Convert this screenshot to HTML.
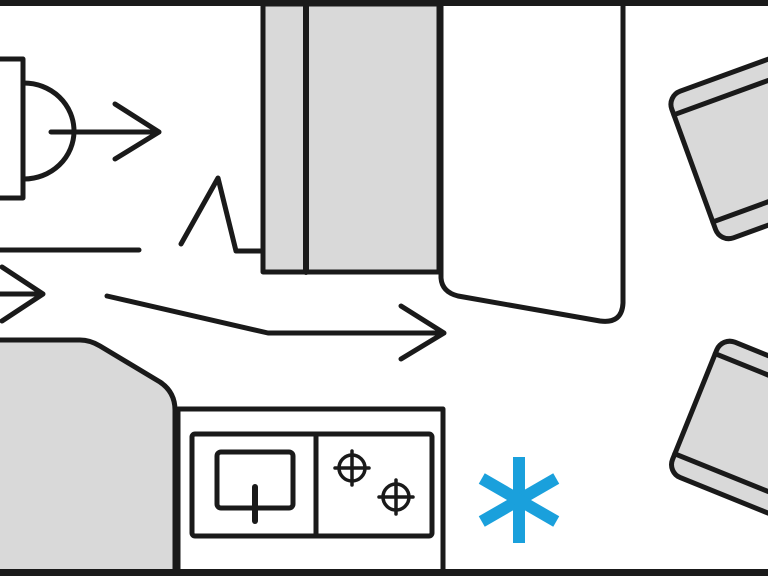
<!DOCTYPE html>
<html><head><meta charset="utf-8"><style>
html,body{margin:0;padding:0;background:#fff;}
svg{display:block;}
</style></head><body>
<svg width="768" height="576" viewBox="0 0 768 576" xmlns="http://www.w3.org/2000/svg">
<g fill="none" stroke="#1a1a1a" stroke-width="5" stroke-linecap="round" stroke-linejoin="round">
<path d="M0 59 H23 V198 H0" />
<path d="M24 83 A50 48 0 0 1 24 179" />
<path d="M51 132 H159 M115 104 L159 132 L115 159" />
<path d="M0 250 H139" />
<path d="M0 294 H42 M2 267 L43 294 L2 321" />
<path d="M181 244 L218 178 L236 251 H262" />
<rect x="263" y="4" width="176" height="268" fill="#d9d9d9" />
<path d="M306 4 V272" stroke-width="6"/>
<path d="M441 4 V278 Q442 292 458 296 L600 321 Q622 324 623 303 V4" fill="#fff"/>
<path d="M107 296 L268 333 H443 M401 306 L444 333 L401 359" />
<path d="M-5 340 H80 Q90 340 100 346 L160 382 Q175 392 175 410 V576 H-5 Z" fill="#d9d9d9"/>
<rect x="178" y="409" width="265" height="170" fill="#fff"/>
<rect x="192" y="434" width="240" height="102" rx="3"/>
<path d="M316 434 V536"/>
<rect x="217" y="452" width="76" height="56" rx="4"/>
<path d="M255 487 V521" stroke-width="6"/>
<g stroke-width="3.5">
<circle cx="352" cy="468" r="13"/><path d="M335 468 H369 M352 451 V485"/>
<circle cx="396" cy="497" r="13"/><path d="M379 497 H413 M396 480 V514"/>
</g>
<g transform="translate(667,96) rotate(-20)" fill="#d9d9d9">
<rect x="0" y="0" width="220" height="156" rx="14"/>
<path d="M0 20 H220 M0 134 H220" fill="none"/>
</g>
<g transform="translate(722,337) rotate(22)" fill="#d9d9d9">
<rect x="0" y="0" width="220" height="146" rx="14"/>
<path d="M0 18 H220 M0 126 H220" fill="none"/>
</g>
</g>
<rect x="0" y="0" width="768" height="6" fill="#1a1a1a"/>
<rect x="0" y="569" width="768" height="7" fill="#1a1a1a"/>
<g stroke="#1aa0dc" stroke-width="12" transform="translate(519,500)">
<path d="M0 -43 V43"/>
<path d="M0 -43 V43" transform="rotate(60)"/>
<path d="M0 -43 V43" transform="rotate(-60)"/>
</g>
</svg>
</body></html>
